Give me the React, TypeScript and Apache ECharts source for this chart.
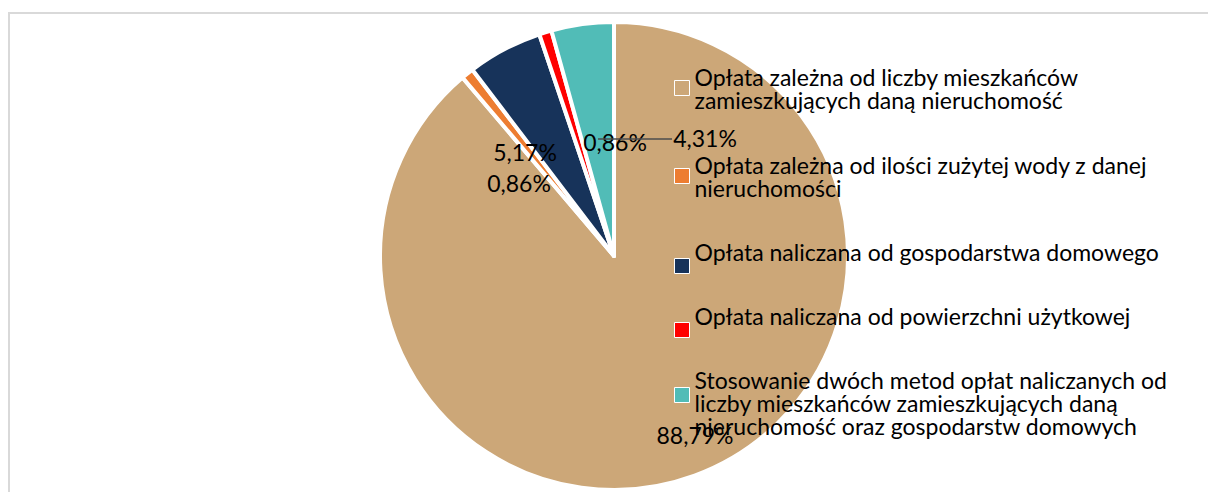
import React, { useEffect, useRef } from "react";
import * as echarts from "echarts";

const CATEGORIES = [
  "Opłata zależna od liczby mieszkańców zamieszkujących daną nieruchomość",
  "Opłata zależna od ilości zużytej wody z danej nieruchomości",
  "Opłata naliczana od gospodarstwa domowego",
  "Opłata naliczana od powierzchni użytkowej",
  "Stosowanie dwóch metod opłat naliczanych od liczby mieszkańców zamieszkujących daną nieruchomość oraz gospodarstw domowych",
];
const LEGEND_LINES: string[][] = [
  ["Opłata zależna od liczby mieszkańców", "zamieszkujących daną nieruchomość"],
  ["Opłata zależna od ilości zużytej wody z danej", "nieruchomości"],
  ["Opłata naliczana od gospodarstwa domowego"],
  ["Opłata naliczana od powierzchni użytkowej"],
  [
    "Stosowanie dwóch metod opłat naliczanych od",
    "liczby mieszkańców zamieszkujących daną",
    "nieruchomość oraz gospodarstw domowych",
  ],
];
const VALUES = [88.79, 0.86, 5.17, 0.86, 4.31];
const LABELS = ["88,79%", "0,86%", "5,17%", "0,86%", "4,31%"];
const COLORS = ["#CCA778", "#ED7D31", "#17335A", "#FF0000", "#51BCB7"];

const FONT = "Lato";
const FS = 23;
const CX = 614;
const CY = 256;
const R = 234;
// label placement (offset of label centre from pie centre), layout only
const LABEL_OFF: [number, number][] = [
  [81, 179],
  [-95, -73],
  [-89, -104],
  [1, -114],
  [91, -118],
];
const LEGEND_ICON_CY = [88, 176, 266, 330, 395];
// spacer heights [above, below] to shift the text relative to the icon
const LEGEND_SPACER: [number, number][] = [
  [0, 0],
  [0, 0],
  [0, 28],
  [0, 28],
  [16, 0],
];
const LINE_H = 23;
const ICON = 15;

export default function App() {
  const ref = useRef<HTMLDivElement>(null);
  useEffect(() => {
    document.body.style.margin = "0";
    const chart = echarts.init(ref.current!, undefined, { renderer: "svg" });
    const legends = CATEGORIES.map((c, i) => {
      const lines = LEGEND_LINES[i];
      const [sa, sb] = LEGEND_SPACER[i];
      const parts: string[] = [];
      if (sa > 0) parts.push("{sa| }");
      lines.forEach((l) => parts.push("{t|" + l + "}"));
      if (sb > 0) parts.push("{sb| }");
      const T = lines.length * LINE_H + sa + sb;
      const off = Math.min(0, ICON / 2 - T / 2);
      const top = LEGEND_ICON_CY[i] - ICON / 2 + off;
      return {
        data: [c],
        orient: "vertical",
        left: 674,
        top,
        padding: 0,
        icon: "rect",
        itemWidth: ICON,
        itemHeight: ICON,
        selectedMode: false,
        itemStyle: { borderColor: "#fff", borderWidth: 1 },
        formatter: () => parts.join("\n"),
        textStyle: {
          fontFamily: FONT,
          fontSize: FS,
          lineHeight: LINE_H,
          color: "#000",
          rich: {
            t: { fontFamily: FONT, fontSize: FS, lineHeight: LINE_H, height: LINE_H, color: "#000" },
            sa: { fontSize: 1, lineHeight: sa || 1, height: sa || 1 },
            sb: { fontSize: 1, lineHeight: sb || 1, height: sb || 1 },
          },
        },
      };
    });
    chart.setOption({
      animation: false,
      backgroundColor: "#fff",
      graphic: [
        {
          type: "rect",
          shape: { x: 9, y: 13, width: 1400, height: 700 },
          style: { fill: "none", stroke: "#D9D9D9", lineWidth: 2 },
          z: -10,
          silent: true,
        },
        {
          type: "line",
          shape: { x1: CX - 16, y1: CY - 117, x2: CX + 58, y2: CY - 117 },
          style: { stroke: "#4D4D4D", lineWidth: 1.5 },
          z: 100,
          silent: true,
        },
      ],
      legend: legends,
      series: [
        {
          type: "pie",
          center: [CX, CY],
          radius: R,
          startAngle: 90,
          clockwise: true,
          avoidLabelOverlap: false,
          data: CATEGORIES.map((name, i) => ({
            name,
            value: VALUES[i],
            itemStyle: { color: COLORS[i] },
          })),
          itemStyle: { borderColor: "#fff", borderWidth: 4 },
          label: {
            show: true,
            position: "inside",
            formatter: (p: any) => LABELS[p.dataIndex],
            fontFamily: FONT,
            fontSize: FS,
            color: "#000",
            textBorderWidth: 0,
          },
          labelLine: { show: false },
          labelLayout: (p: any) => {
            const [dx, dy] = LABEL_OFF[p.dataIndex];
            return { x: CX + dx, y: CY + dy, align: "center", verticalAlign: "middle" };
          },
          emphasis: { disabled: true },
          z: 2,
        },
      ],
    });
    return () => chart.dispose();
  }, []);
  return <div ref={ref} style={{ width: 1208, height: 492 }} />;
}
